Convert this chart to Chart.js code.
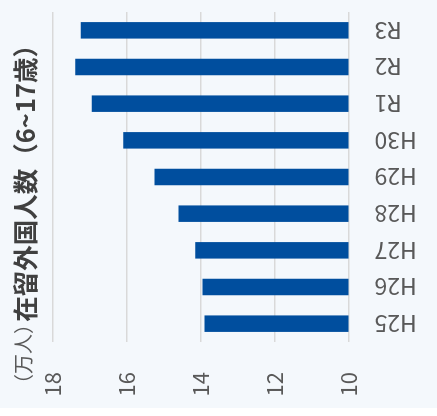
<!DOCTYPE html>
<html>
<head>
<meta charset="utf-8">
<script src="https://cdn.jsdelivr.net/npm/chart.js@4"></script>
<style>
  html, body { margin: 0; padding: 0; background: #fff; }
  body { width: 437px; height: 416px; overflow: hidden; position: relative; }
  /* chart is drawn upright, then turned a quarter left like the source picture */
  #wrap { position: absolute; left: 0; top: 0; width: 416px; height: 437px;
          transform-origin: 0 0; transform: translate(0, 416px) rotate(-90deg); }
</style>
</head>
<body>
<div id="wrap"><canvas id="chart" width="416" height="437"></canvas></div>
<script>
const categories = ['H25', 'H26', 'H27', 'H28', 'H29', 'H30', 'R1', 'R2', 'R3'];
const residents = [13.9, 13.95, 14.15, 14.6, 15.25, 16.1, 16.95, 17.4, 17.25]; // 万人
const valueTicks = [10, 12, 14, 16, 18];
const chartTitle = '在留外国人数（6~17歳）';
const unitLabel = '（万人）';

const FONT = "'Noto Sans CJK JP', 'Noto Sans', sans-serif";

const bgPlugin = {
    id: 'bg',
    beforeDraw(chart) {
        const c = chart.ctx;
        c.save();
        c.fillStyle = '#f4f8fc';
        c.fillRect(8, 0, chart.width - 8, chart.height);
        c.restore();
    }
};

const titlePlugin = {
    id: 'titleRow',
    afterDraw(chart) {
        const c = chart.ctx;
        c.save();
        c.textBaseline = 'middle';
        c.fillStyle = '#595959';
        c.font = '20px ' + FONT;
        c.textAlign = 'left';
        c.fillText(unitLabel, 22, 23);
        c.fillStyle = '#404040';
        c.font = 'bold 25.5px ' + FONT;
        c.textAlign = 'right';
        c.fillText(chartTitle, 384, 25);
        c.restore();
    }
};

const ctx = document.getElementById('chart').getContext('2d');
new Chart(ctx, {
    type: 'bar',
    data: {
        labels: categories,
        datasets: [{
            data: residents,
            backgroundColor: '#004e9e',
            barPercentage: 0.45,
            categoryPercentage: 1
        }]
    },
    options: {
        responsive: false,
        animation: false,
        layout: { padding: { top: 53, right: 12, left: 0, bottom: 0 } },
        plugins: { legend: { display: false }, tooltip: { enabled: false } },
        scales: {
            x: {
                grid: { display: false },
                border: { display: false },
                ticks: { minRotation: 90, maxRotation: 90, padding: 18, color: '#595959',
                         font: { family: FONT, size: 23 } },
                afterFit(s) { s.height = 88.5; s.paddingLeft = 0; s.paddingRight = 0; }
            },
            y: {
                min: 10,
                max: 18,
                afterBuildTicks(s) { s.ticks = valueTicks.map(v => ({ value: v })); },
                grid: { color: '#d9d9d9', lineWidth: 1.5, drawTicks: false },
                border: { display: false },
                ticks: { padding: 30, color: '#595959', font: { family: FONT, size: 22 } },
                afterFit(s) { s.width = 74; s.paddingTop = 0; s.paddingBottom = 0; }
            }
        }
    },
    plugins: [bgPlugin, titlePlugin]
});
</script>
</body>
</html>
